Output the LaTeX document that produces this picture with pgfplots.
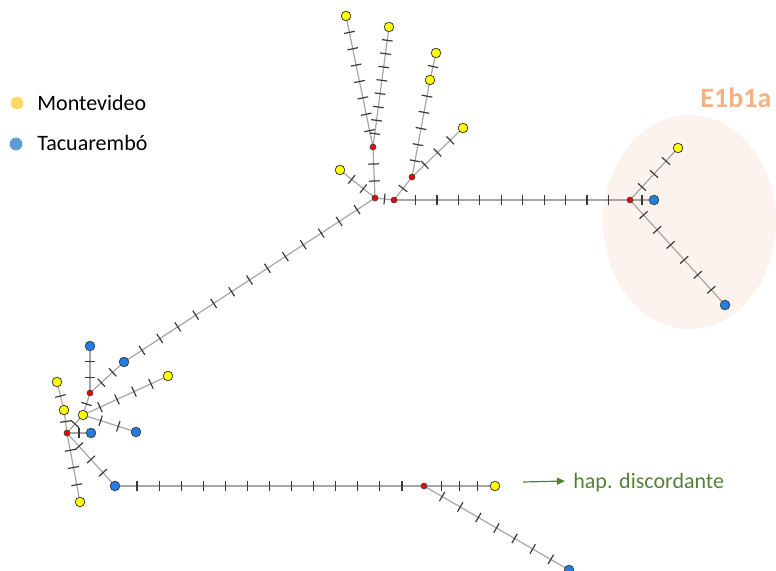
\documentclass[border=0pt]{standalone}
\usepackage{fontspec}
\setmainfont{Carlito}
\usepackage{pgfplots}
\pgfplotsset{compat=1.18}
\usetikzlibrary{decorations.markings,arrows.meta}

\definecolor{edgec}{HTML}{A6A6A6}
\definecolor{tickc}{HTML}{3A3A3A}
\definecolor{nodey}{HTML}{FFFF00}
\definecolor{nodeb}{HTML}{1F7FE6}
\definecolor{noder}{HTML}{F00000}
\definecolor{legy}{HTML}{FFD966}
\definecolor{legb}{HTML}{5B9BD5}
\definecolor{ellc}{HTML}{FDF3EE}
\definecolor{hapc}{HTML}{F4B183}
\definecolor{greenc}{HTML}{548235}

% an edge of the network with #1 mutation hatches spaced evenly along it
\pgfplotsset{
  edge/.style={edgec, line width=0.6bp, no markers},
  mut/.style={postaction={decorate, decoration={markings,
      mark=between positions {1/(#1+1)} and {(#1+0.5)/(#1+1)} step {1/(#1+1)}
      with {\draw[tickc, line width=0.6bp] (0,-2.7bp) -- (0,2.7bp);}}}},
}

\begin{document}
\begin{tikzpicture}
\begin{axis}[
  scale only axis, width=388bp, height=285.5bp,
  xmin=0, xmax=776, ymin=0, ymax=571, y dir=reverse,
  hide axis, clip=true, clip marker paths=true,
]
% shaded haplogroup region
\fill[ellc] (axis cs:689.5,222) ellipse [x radius=43.25bp, y radius=53.5bp];

% upper star
\addplot[edge, mut=10] coordinates {(394,200) (630,200)};
\addplot[edge, mut=1]  coordinates {(630,200) (654,200)};
\addplot[edge, mut=3]  coordinates {(630,200) (678,148)};
\addplot[edge, mut=6]  coordinates {(630,200) (725,305)};
\addplot[edge, mut=1]  coordinates {(375,198) (394,200)};
\addplot[edge, mut=2]  coordinates {(375,198) (373,147)};
\addplot[edge, mut=7]  coordinates {(373,147) (346,16)};
\addplot[edge, mut=8]  coordinates {(373,147) (389,27)};
\addplot[edge, mut=2]  coordinates {(375,198) (340,170)};
\addplot[edge, mut=1]  coordinates {(394,200) (412,177)};
\addplot[edge, mut=5]  coordinates {(412,177) (430,80)};
\addplot[edge, mut=1]  coordinates {(430,80) (436,53)};
\addplot[edge, mut=3]  coordinates {(412,177) (463,128)};
\addplot[edge, mut=13] coordinates {(375,198) (124,362)};

% lower-left cluster
\addplot[edge, mut=2]  coordinates {(124,362) (90,393)};
\addplot[edge, mut=2]  coordinates {(90,393) (90,346)};
\addplot[edge, mut=1]  coordinates {(90,393) (83,415)};
\addplot[edge, mut=4]  coordinates {(83,415) (168,376)};
\addplot[edge, mut=2]  coordinates {(83,415) (136,432)};
\addplot[edge, mut=1]  coordinates {(67,433) (83,415)};
\addplot[edge, mut=1]  coordinates {(67,433) (91,433)};
\addplot[edge, mut=1]  coordinates {(67,433) (64,410)};
\addplot[edge, mut=1]  coordinates {(64,410) (57,382)};
\addplot[edge, mut=3]  coordinates {(67,433) (80,502)};
\addplot[edge, mut=3]  coordinates {(67,433) (115,486)};
\addplot[edge, mut=13] coordinates {(115,486) (424,486)};
\addplot[edge, mut=3]  coordinates {(424,486) (495,486)};
\addplot[edge, mut=7]  coordinates {(424,486) (569,570)};

% haplotypes: Montevideo
\addplot[only marks, mark=*, mark size=2.4bp,
  mark options={fill=nodey, draw=black!75, line width=0.4bp}]
  coordinates {(346,16) (389,27) (436,53) (430,80) (463,128) (340,170)
               (678,148) (495,486) (168,376) (83,415) (64,410) (57,382) (80,502)};
% haplotypes: Tacuarembo
\addplot[only marks, mark=*, mark size=2.4bp,
  mark options={fill=nodeb, draw=black!75, line width=0.4bp}]
  coordinates {(654,200) (725,305) (124,362) (90,346) (136,432) (91,433)
               (115,486) (569,570)};
% median vectors
\addplot[only marks, mark=*, mark size=1.5bp,
  mark options={fill=noder, draw=black!75, line width=0.3bp}]
  coordinates {(375,198) (394,200) (373,147) (412,177) (630,200)
               (90,393) (67,433) (424,486)};

% legend
\addplot[only marks, mark=*, mark size=3bp, mark options={fill=legy, draw=legy}]
  coordinates {(17,103)};
\addplot[only marks, mark=*, mark size=3bp, mark options={fill=legb, draw=legb}]
  coordinates {(16,144)};
\node[anchor=base west, inner sep=0pt, font=\fontsize{11bp}{13bp}\selectfont]
  at (axis cs:37,110) {Montevideo};
\node[anchor=base west, inner sep=0pt, font=\fontsize{11bp}{13bp}\selectfont]
  at (axis cs:37,150) {Tacuarembó};

% annotations
\node[anchor=base west, inner sep=0pt, text=hapc,
  font=\fontsize{14bp}{16bp}\selectfont\bfseries] at (axis cs:700,107) {E1b1a};
\draw[greenc, line width=0.6bp, -{Triangle[length=4bp,width=3.5bp]}]
  (axis cs:523,482) -- (axis cs:565,481);
\node[anchor=base west, inner sep=0pt, text=greenc,
  font=\fontsize{11bp}{13bp}\selectfont] at (axis cs:573,488) {hap. discordante};
\end{axis}
% the page is exactly the plotting area
\pgfresetboundingbox
\path (current axis.south west) rectangle (current axis.north east);
\end{tikzpicture}
\end{document}
